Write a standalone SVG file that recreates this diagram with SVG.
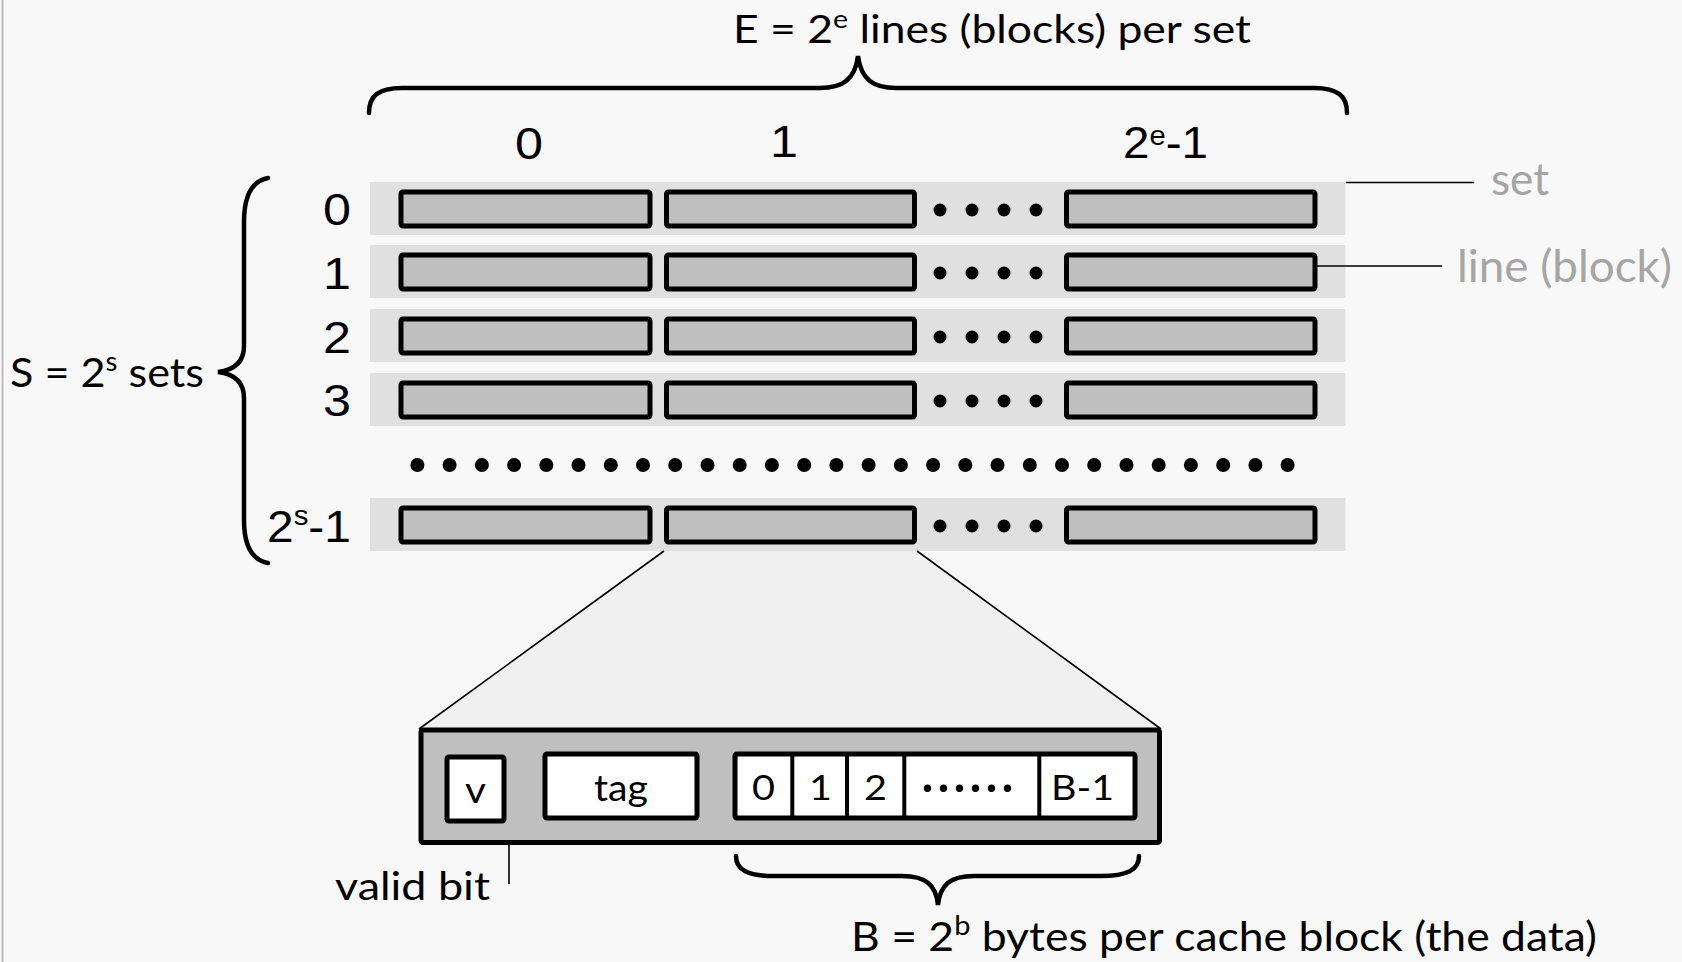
<svg xmlns="http://www.w3.org/2000/svg" width="1682" height="962" viewBox="0 0 1682 962">
<defs>
<style>
.bg{fill:#f8f8f8}
.rowbg{fill:#e0e0e0}
.box{fill:#bfbfbf;stroke:#000;stroke-width:5}
.wbox{fill:#fff;stroke:#000;stroke-width:5}
.dot{fill:#000}
.brace{fill:none;stroke:#000;stroke-width:4.5;stroke-linecap:round}
.conn{fill:none;stroke:#000;stroke-width:1.6}
.num{font-family:"Liberation Sans",Arial,sans-serif;font-size:44px;fill:#000}
.lbl{font-family:Lato,"Liberation Sans",sans-serif;fill:#000}
.gray{font-family:Lato,"Liberation Sans",sans-serif;fill:#a5a5a5;font-size:45px}
</style>
</defs>
<rect class="bg" x="0" y="0" width="1682" height="962"/>
<line x1="2.5" y1="0" x2="2.5" y2="962" stroke="#bdbdbd" stroke-width="2"/>

<g id="title">
<text class="lbl" x="733" y="43" font-size="39" textLength="518" lengthAdjust="spacingAndGlyphs">E = 2<tspan font-size="25" dy="-15">e</tspan><tspan dy="15"> lines (blocks) per set</tspan></text>
</g>
<g id="brace-top"><path class="brace" d="M369,113 C369,96 378,88 402,88 L820,88 C842,88 855,80 858,56 C861,80 874,88 896,88 L1314,88 C1338,88 1347,96 1347,113"/></g>

<g id="col-labels">
<text class="num" x="515" y="159" textLength="28" lengthAdjust="spacingAndGlyphs">0</text>
<text class="num" x="770" y="157" textLength="28" lengthAdjust="spacingAndGlyphs">1</text>
<text class="num" x="1123" y="158" textLength="85" lengthAdjust="spacingAndGlyphs">2<tspan font-size="27" dy="-13">e</tspan><tspan dy="13">-1</tspan></text>
</g>

<g id="sets-label">
<text class="lbl" x="10" y="387" font-size="41" textLength="194" lengthAdjust="spacingAndGlyphs">S = 2<tspan font-size="26" dy="-16">s</tspan><tspan dy="16"> sets</tspan></text>
</g>
<g id="brace-left"><path class="brace" d="M268,178 C252,181 244,196 244,222 L244,346 C244,362 234,370 218,372 C234,374 244,382 244,398 L244,520 C244,545 252,560 268,563"/></g>

<g id="set-0">
<rect class="rowbg" x="370" y="182" width="975.5" height="53"/>
<rect class="box" x="401" y="192" width="249" height="34" rx="2"/>
<rect class="box" x="666.5" y="192" width="248" height="34" rx="2"/>
<rect class="box" x="1066.5" y="192" width="248.5" height="34" rx="2"/>
<circle class="dot" cx="940" cy="210" r="6.5"/><circle class="dot" cx="972" cy="210" r="6.5"/><circle class="dot" cx="1004" cy="210" r="6.5"/><circle class="dot" cx="1036" cy="210" r="6.5"/>
<text class="num" x="323" y="225" textLength="28" lengthAdjust="spacingAndGlyphs">0</text>
</g>
<g id="set-1">
<rect class="rowbg" x="370" y="245" width="975.5" height="53"/>
<rect class="box" x="401" y="255" width="249" height="34" rx="2"/>
<rect class="box" x="666.5" y="255" width="248" height="34" rx="2"/>
<rect class="box" x="1066.5" y="255" width="248.5" height="34" rx="2"/>
<circle class="dot" cx="940" cy="273" r="6.5"/><circle class="dot" cx="972" cy="273" r="6.5"/><circle class="dot" cx="1004" cy="273" r="6.5"/><circle class="dot" cx="1036" cy="273" r="6.5"/>
<text class="num" x="323" y="289" textLength="28" lengthAdjust="spacingAndGlyphs">1</text>
</g>
<g id="set-2">
<rect class="rowbg" x="370" y="309" width="975.5" height="53"/>
<rect class="box" x="401" y="319" width="249" height="34" rx="2"/>
<rect class="box" x="666.5" y="319" width="248" height="34" rx="2"/>
<rect class="box" x="1066.5" y="319" width="248.5" height="34" rx="2"/>
<circle class="dot" cx="940" cy="337" r="6.5"/><circle class="dot" cx="972" cy="337" r="6.5"/><circle class="dot" cx="1004" cy="337" r="6.5"/><circle class="dot" cx="1036" cy="337" r="6.5"/>
<text class="num" x="323" y="353" textLength="28" lengthAdjust="spacingAndGlyphs">2</text>
</g>
<g id="set-3">
<rect class="rowbg" x="370" y="373" width="975.5" height="53"/>
<rect class="box" x="401" y="383" width="249" height="34" rx="2"/>
<rect class="box" x="666.5" y="383" width="248" height="34" rx="2"/>
<rect class="box" x="1066.5" y="383" width="248.5" height="34" rx="2"/>
<circle class="dot" cx="940" cy="401" r="6.5"/><circle class="dot" cx="972" cy="401" r="6.5"/><circle class="dot" cx="1004" cy="401" r="6.5"/><circle class="dot" cx="1036" cy="401" r="6.5"/>
<text class="num" x="323" y="416" textLength="28" lengthAdjust="spacingAndGlyphs">3</text>
</g>
<g id="set-ellipsis">
<circle class="dot" cx="417.4" cy="465" r="7"/><circle class="dot" cx="449.6" cy="465" r="7"/><circle class="dot" cx="481.9" cy="465" r="7"/><circle class="dot" cx="514.1" cy="465" r="7"/><circle class="dot" cx="546.3" cy="465" r="7"/><circle class="dot" cx="578.5" cy="465" r="7"/><circle class="dot" cx="610.8" cy="465" r="7"/><circle class="dot" cx="643" cy="465" r="7"/><circle class="dot" cx="675.2" cy="465" r="7"/><circle class="dot" cx="707.5" cy="465" r="7"/><circle class="dot" cx="739.7" cy="465" r="7"/><circle class="dot" cx="771.9" cy="465" r="7"/><circle class="dot" cx="804.2" cy="465" r="7"/><circle class="dot" cx="836.4" cy="465" r="7"/><circle class="dot" cx="868.6" cy="465" r="7"/><circle class="dot" cx="900.9" cy="465" r="7"/><circle class="dot" cx="933.1" cy="465" r="7"/><circle class="dot" cx="965.3" cy="465" r="7"/><circle class="dot" cx="997.5" cy="465" r="7"/><circle class="dot" cx="1029.8" cy="465" r="7"/><circle class="dot" cx="1062" cy="465" r="7"/><circle class="dot" cx="1094.2" cy="465" r="7"/><circle class="dot" cx="1126.5" cy="465" r="7"/><circle class="dot" cx="1158.7" cy="465" r="7"/><circle class="dot" cx="1190.9" cy="465" r="7"/><circle class="dot" cx="1223.2" cy="465" r="7"/><circle class="dot" cx="1255.4" cy="465" r="7"/><circle class="dot" cx="1287.6" cy="465" r="7"/>
</g>
<g id="set-last">
<rect class="rowbg" x="370" y="498" width="975.5" height="53"/>
<rect class="box" x="401" y="508" width="249" height="34" rx="2"/>
<rect class="box" x="666.5" y="508" width="248" height="34" rx="2"/>
<rect class="box" x="1066.5" y="508" width="248.5" height="34" rx="2"/>
<circle class="dot" cx="940" cy="526" r="6.5"/><circle class="dot" cx="972" cy="526" r="6.5"/><circle class="dot" cx="1004" cy="526" r="6.5"/><circle class="dot" cx="1036" cy="526" r="6.5"/>
<text class="num" x="267" y="542" textLength="84" lengthAdjust="spacingAndGlyphs">2<tspan font-size="27" dy="-17">s</tspan><tspan dy="17">-1</tspan></text>
</g>

<g id="legend-set"><text class="gray" x="1491" y="195" textLength="58" lengthAdjust="spacingAndGlyphs">set</text></g>
<g id="legend-line"><text class="gray" x="1457" y="282" textLength="215" lengthAdjust="spacingAndGlyphs">line (block)</text></g>

<g id="connectors">
<polygon points="664,551 419,729 1161,729 917,551" fill="#f0f0f0" stroke="none"/>
<line class="conn" x1="664" y1="551" x2="419" y2="729"/>
<line class="conn" x1="917" y1="551" x2="1161" y2="729"/>
<line class="conn" x1="1346" y1="182.5" x2="1474" y2="182.5"/>
<line class="conn" x1="1317" y1="266" x2="1442" y2="266"/>
<line class="conn" x1="509" y1="822" x2="509" y2="884"/>
</g>

<g id="line-detail">
<rect class="box" x="421" y="730" width="738.5" height="112.5" rx="2"/>
</g>
<g id="valid-bit">
<rect class="wbox" x="447" y="757" width="57" height="64" rx="2"/>
<text class="lbl" x="465" y="803" font-size="36" textLength="21" lengthAdjust="spacingAndGlyphs">v</text>
</g>
<g id="tag">
<rect class="wbox" x="545" y="754" width="152" height="64" rx="2"/>
<text class="lbl" x="594" y="801" font-size="36" textLength="54" lengthAdjust="spacingAndGlyphs">tag</text>
</g>
<g id="data">
<rect class="wbox" x="735" y="754" width="400" height="64" rx="2"/>
<line x1="792.3" y1="754" x2="792.3" y2="818" stroke="#000" stroke-width="4"/>
<line x1="847" y1="754" x2="847" y2="818" stroke="#000" stroke-width="4"/>
<line x1="904.3" y1="754" x2="904.3" y2="818" stroke="#000" stroke-width="4"/>
<line x1="1039.3" y1="754" x2="1039.3" y2="818" stroke="#000" stroke-width="4"/>
<text class="lbl" x="752" y="800" font-size="35" textLength="23" lengthAdjust="spacingAndGlyphs">0</text>
<text class="lbl" x="809" y="800" font-size="35" textLength="23" lengthAdjust="spacingAndGlyphs">1</text>
<text class="lbl" x="864" y="800" font-size="35" textLength="23" lengthAdjust="spacingAndGlyphs">2</text>
<text class="lbl" x="921" y="803" font-size="50" letter-spacing="3">······</text>
<text class="lbl" x="1051" y="800" font-size="35" textLength="63" lengthAdjust="spacingAndGlyphs">B-1</text>
</g>
<g id="valid-bit-label">
<text class="lbl" x="335" y="900" font-size="38" textLength="155" lengthAdjust="spacingAndGlyphs">valid bit</text>
</g>
<g id="brace-bottom"><path class="brace" d="M736,856 C736,870 748,876 774,876 L902,876 C926,876 936,885 938,905 C940,885 950,876 974,876 L1101,876 C1127,876 1139,870 1139,856"/></g>
<g id="bytes-label">
<text class="lbl" x="851" y="951" font-size="40" textLength="746" lengthAdjust="spacingAndGlyphs">B = 2<tspan font-size="26" dy="-16">b</tspan><tspan dy="16"> bytes per cache block (the data)</tspan></text>
</g>
</svg>
